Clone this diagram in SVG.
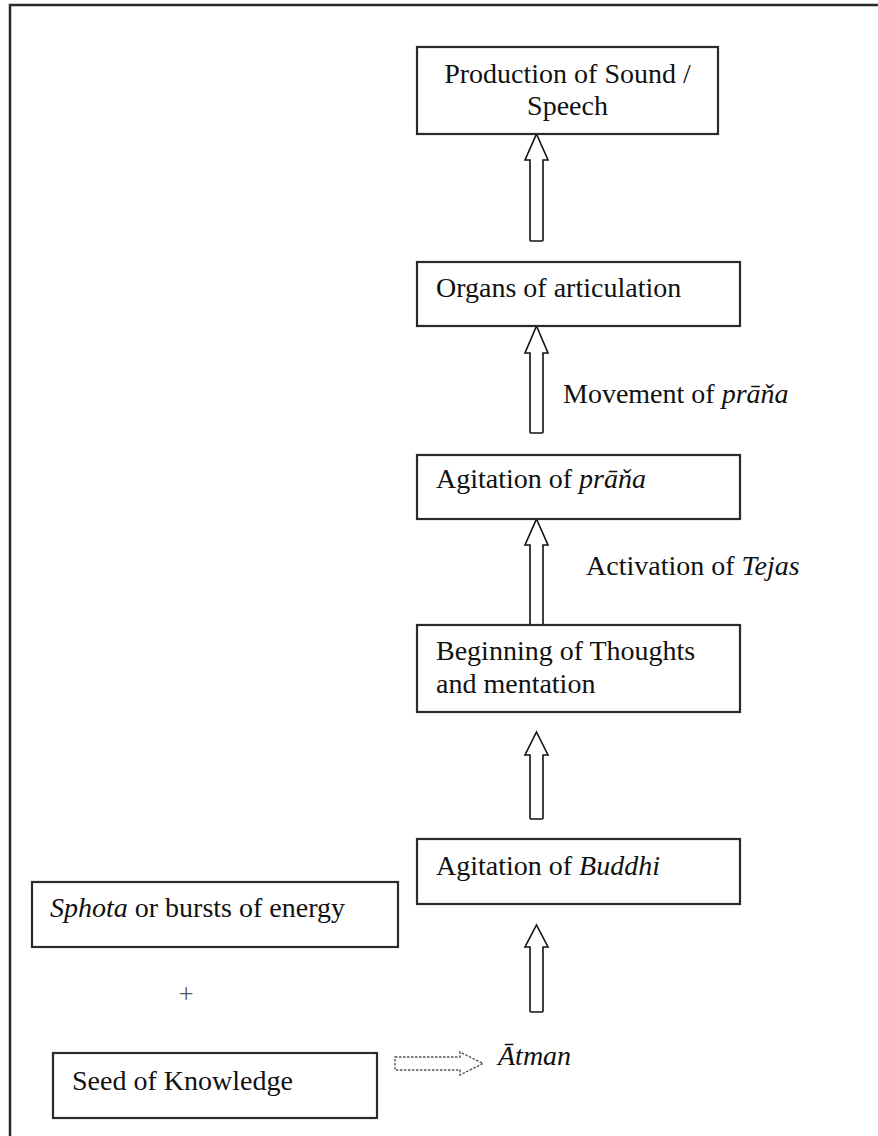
<svg xmlns="http://www.w3.org/2000/svg" width="878" height="1136" viewBox="0 0 878 1136">
<style>
.frame{fill:none;stroke:#2a2a2a;stroke-width:2.5}
.box{fill:#fff;stroke:#2a2a2a;stroke-width:2.2}
.t{font-family:"Liberation Serif","Times New Roman",serif;font-size:28px;fill:#111}
.i{font-style:italic}
.arr{fill:#fff;stroke:#111;stroke-width:1.6;stroke-linejoin:miter}
.darr{fill:#fff;stroke:#555;stroke-width:1.4;stroke-dasharray:2.5 1.5}
</style>
<rect width="878" height="1136" fill="#fff"/>
<path class="frame" d="M10,1140 L10,5 L880,5"/>
<g id="connectors">
<path class="arr" d="M536.5,134 L548,160 L543,160 L543,240 Q543,241 542,241 L531,241 Q530,241 530,240 L530,160 L525,160 Z"/>
<path class="arr" d="M536.5,326 L548,353 L543,353 L543,432 Q543,433 542,433 L531,433 Q530,433 530,432 L530,353 L525,353 Z"/>
<path class="arr" d="M536.5,519 L548,545 L543,545 L543,625 L530,625 L530,545 L525,545 Z"/>
<path class="arr" d="M536.5,732 L548,755 L543,755 L543,818 Q543,819 542,819 L531,819 Q530,819 530,818 L530,755 L525,755 Z"/>
<path class="arr" d="M536.5,925 L548,947 L543,947 L543,1011 Q543,1012 542,1012 L531,1012 Q530,1012 530,1011 L530,947 L525,947 Z"/>
<path class="darr" d="M395,1057 L460,1057 L460,1052 L483,1063.5 L460,1075 L460,1070 L395,1070 Z"/>
<text class="t" x="563" y="403">Movement of <tspan class="i">prāňa</tspan></text>
<text class="t" x="586" y="575">Activation of <tspan class="i">Tejas</tspan></text>
</g>
<g id="n-speech">
<rect class="box" x="417" y="47" width="301" height="87"/>
<text class="t" x="567.5" y="83" text-anchor="middle">Production of Sound /</text>
<text class="t" x="567.5" y="115" text-anchor="middle">Speech</text>
</g>
<g id="n-organs">
<rect class="box" x="417" y="262" width="323" height="64"/>
<text class="t" x="436" y="297">Organs of articulation</text>
</g>
<g id="n-agitation-prana">
<rect class="box" x="417" y="455" width="323" height="64"/>
<text class="t" x="436" y="488">Agitation of <tspan class="i">prāňa</tspan></text>
</g>
<g id="n-thoughts">
<rect class="box" x="417" y="625" width="323" height="87"/>
<text class="t" x="436" y="660">Beginning of Thoughts</text>
<text class="t" x="436" y="693">and mentation</text>
</g>
<g id="n-buddhi">
<rect class="box" x="417" y="839" width="323" height="65"/>
<text class="t" x="436" y="875">Agitation of <tspan class="i">Buddhi</tspan></text>
</g>
<g id="n-sphota">
<rect class="box" x="32" y="882" width="366" height="65"/>
<text class="t" x="50" y="917"><tspan class="i">Sphota</tspan> or bursts of energy</text>
</g>
<g id="n-plus">
<text class="t" x="186" y="1003" text-anchor="middle" style="font-size:27px;fill:#555">+</text>
</g>
<g id="n-seed">
<rect class="box" x="53" y="1053" width="324" height="65"/>
<text class="t" x="72" y="1090">Seed of Knowledge</text>
</g>
<g id="n-atman">
<text class="t i" x="498" y="1065">Ātman</text>
</g>
</svg>
